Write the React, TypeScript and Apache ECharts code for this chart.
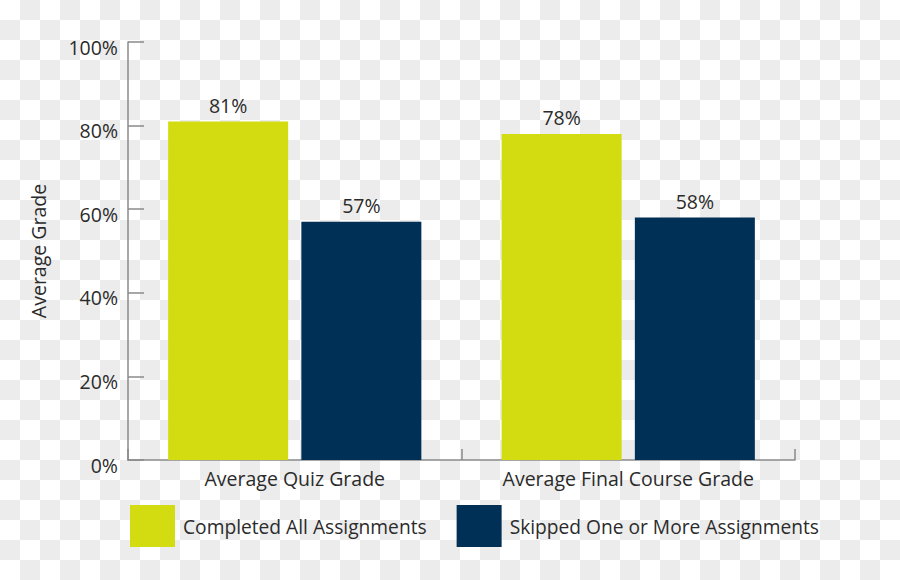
import React, { useEffect, useRef } from "react";
import * as echarts from "echarts";

const categories = ["Average Quiz Grade", "Average Final Course Grade"];
const seriesNames = ["Completed All Assignments", "Skipped One or More Assignments"];
const completedValues = [81, 78];
const skippedValues = [57, 58];
const yTicks = [0, 20, 40, 60, 80, 100];

const FONT = "'Open Sans', 'Noto Sans', sans-serif";
const TEXT = "#2b2b2b";
const AXIS = "#8a8a8a";
const YELLOW = "#d3dc10";
const NAVY = "#013056";
const FS = 19.5;

export default function App() {
  const ref = useRef<HTMLDivElement>(null);

  useEffect(() => {
    document.body.style.margin = "0";
    if (!ref.current) return;
    const chart = echarts.init(ref.current, undefined, { renderer: "svg" });
    const label = {
      show: true,
      position: "top" as const,
      distance: 6,
      formatter: (p: any) => `${p.value}%`,
      color: TEXT,
      fontFamily: FONT,
      fontSize: FS,
    };
    chart.setOption({
      animation: false,
      backgroundColor: "transparent",
      textStyle: { fontFamily: FONT },
      legend: {
        left: 130,
        top: 505,
        padding: 0,
        itemWidth: 45,
        itemHeight: 42,
        itemGap: 30,
        icon: "rect",
        textStyle: { color: TEXT, fontFamily: FONT, fontSize: 19.2, padding: [0, 0, 0, 3] },
        data: seriesNames,
      },
      grid: { left: 128, right: 105, top: 42, bottom: 120, containLabel: false },
      xAxis: {
        type: "category",
        data: categories,
        axisLine: { lineStyle: { color: AXIS, width: 1.5 } },
        axisTick: { show: true, inside: true, length: 11, lineStyle: { color: AXIS, width: 1.5 } },
        axisLabel: { color: TEXT, fontFamily: FONT, fontSize: FS, margin: 8 },
      },
      yAxis: {
        type: "value",
        min: yTicks[0],
        max: yTicks[yTicks.length - 1],
        interval: 20,
        name: "Average Grade",
        nameLocation: "middle",
        nameRotate: 90,
        nameGap: 80,
        nameTextStyle: { color: TEXT, fontFamily: FONT, fontSize: FS },
        axisLine: { show: true, lineStyle: { color: AXIS, width: 1.5 } },
        axisTick: { show: true, inside: true, length: 16, lineStyle: { color: AXIS, width: 1.5 } },
        splitLine: { show: false },
        axisLabel: {
          color: TEXT,
          fontFamily: FONT,
          fontSize: FS,
          margin: 10,
          verticalAlign: "top",
          lineHeight: 10,
          formatter: (v: number) => `${v}%`,
        },
      },
      series: [
        {
          name: seriesNames[0],
          type: "bar",
          data: completedValues,
          barWidth: 120,
          barGap: "11%",
          itemStyle: { color: YELLOW },
          label,
        },
        {
          name: seriesNames[1],
          type: "bar",
          data: skippedValues,
          barWidth: 120,
          barGap: "11%",
          itemStyle: { color: NAVY },
          label,
        },
      ],
    });
    return () => chart.dispose();
  }, []);

  return (
    <div
      style={{
        position: "absolute",
        left: 0,
        top: 0,
        width: 900,
        height: 580,
        background: "repeating-conic-gradient(#ececec 0 25%, #ffffff 0 50%) 0 0 / 40px 40px",
      }}
    >
      <div ref={ref} style={{ width: 900, height: 580 }} />
    </div>
  );
}
